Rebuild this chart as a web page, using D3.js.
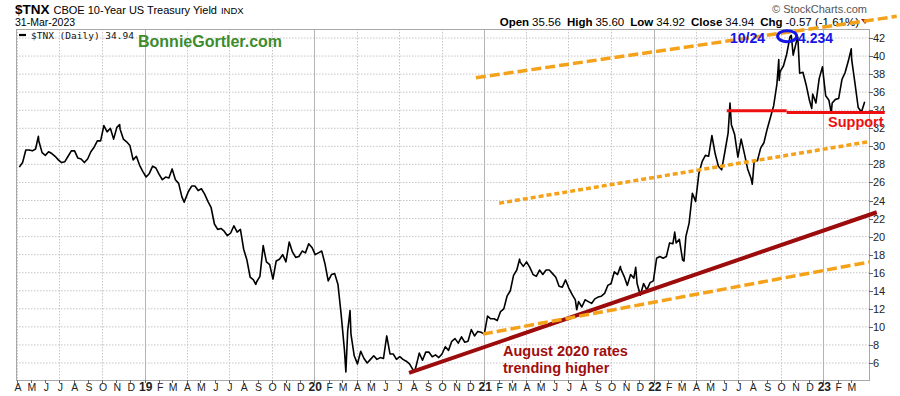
<!DOCTYPE html>
<html>
<head>
<meta charset="utf-8">
<script src="https://cdn.jsdelivr.net/npm/d3@7"></script>
<style>
body { margin: 0; background: #fff; }
svg { display: block; font-family: Arial, "Liberation Sans", sans-serif; }
</style>
</head>
<body>
<svg id="chart" width="900" height="396"></svg>
<script>
// weekly closes of $TNX (yield x10), one value per Friday starting 6-Apr-2018
var firstFriday = "2018-04-06";
var y2018 = [27.7,28.2,29.6,29.6, 29.5,29.7,30.6,29.3, 29.0,29.4,29.2,28.9,28.5, 28.2,28.3,28.9,29.5,
  29.5,28.7,28.6,28.2,28.6, 29.4,29.9,30.6,30.6, 32.3,31.6,32.0,30.8, 32.1,31.9,30.8,30.5,30.1, 28.5,28.9,27.9,27.2];
var y2019 = [26.6,27.0,27.8,27.6, 26.9,26.3,26.6,26.5, 27.5,26.3,25.9,24.4,24.1, 25.0,25.6,25.6,25.1,
  25.3,24.7,23.9,23.2,21.4, 20.8,20.9,20.6,20.1, 20.4,21.2,20.5,20.8, 18.6,17.4,15.5,15.2,15.0,
  15.6,19.0,17.2,16.9, 15.3,17.3,17.5,18.0, 17.2,19.4,18.3,17.7,17.8, 18.4,18.2,19.2,18.8];
var y2020 = [18.0,18.2,18.4,17.0,15.1, 15.8,15.9,14.7,11.3, 7.4,9.6,9.2,6.8, 5.9,7.3,6.5,6.0,
  6.4,6.8,6.4,6.6,6.5, 9.0,7.0,7.0,6.4, 6.7,6.4,6.2,5.9,5.3, 5.6,7.1,6.3,7.2, 7.2,6.7,6.9,6.6,
  7.0,7.8,7.4,8.4,8.7, 8.2,8.9,8.3,8.4, 9.7,9.0,9.5,9.4];
var y2021 = [9.2,11.2,10.9,10.9,10.7, 11.7,12.0,13.4,14.0, 15.7,16.3,17.2,16.7, 17.2,16.6,15.8,15.6,16.3,
  15.8,16.3,16.3,15.9, 15.5,14.5,14.4,15.2, 14.3,13.6,13.0,12.8,12.2, 13.0,12.8,12.6,13.1,
  13.3,13.4,13.7,14.6, 14.8,16.1,15.8,16.4,15.6, 14.6,15.8,15.4,14.8, 13.5,14.8,14.1,14.9,15.1];
var y2022 = [17.6,17.8,17.6,17.8, 19.3,19.2,19.3,19.7, 17.4,20.0,21.5,24.8, 23.9,27.0,28.3,29.0,28.9,
  31.2,29.2,27.8,27.4, 29.4,31.5,32.4,31.3, 28.8,30.8,29.2,27.5,26.5, 28.3,28.4,29.8,30.4,
  31.9,33.2,34.5,36.9,38.3, 38.9,40.2,42.1,40.1, 41.6,38.1,38.2,36.8, 35.1,35.8,34.8,37.5,38.8];
var y2023 = [35.6,35.1,34.8,35.2, 35.3,37.4,38.2,39.5, 39.6,37.0,34.3,33.8,34.94];

var extraDates = ["2018-05-17","2018-11-08","2019-03-27","2019-08-28","2020-03-09","2020-03-18",
  "2020-08-04","2021-03-18","2021-07-19","2021-10-21","2021-11-23","2022-02-15","2022-03-07",
  "2022-06-14","2022-08-01","2022-09-27","2022-09-28","2022-10-24","2022-11-07","2022-12-07",
  "2023-01-18","2023-03-02"];
var extraValues = [31.1,32.4,23.8,14.7,5.0,11.8, 5.1,17.5,11.9,16.7,16.6,20.5,17.3,
  34.8,25.8,39.6,37.3,42.3,42.1,34.2, 33.7,40.8];

// drawn-on annotations: [date, value] end points
var upperChannel = [["2020-12-14", 37.6], ["2023-06-08", 44.4]];
var midChannel   = [["2021-02-02", 23.7], ["2023-04-07", 30.5]];
var lowerChannel = [["2020-12-29", 9.2],  ["2023-04-11", 17.2]];
var augustTrend  = [["2020-07-23", 4.9],  ["2023-04-26", 22.7]];
var supportA     = [["2022-06-07", 33.95], ["2022-10-14", 33.95]];
var supportB     = [["2022-10-14", 33.74], ["2023-05-13", 33.74]];
var peakMark     = ["2022-10-15", 42.2];

var yTicks = d3.range(6, 43, 2);
var lastValue = "34.94";
var quote = [["Open", "35.56"], ["High", "35.60"], ["Low", "34.92"], ["Close", "34.94"], ["Chg", "-0.57 (-1.61%)"]];

var parseDate = d3.timeParse("%Y-%m-%d");

var weekly = y2018.concat(y2019, y2020, y2021, y2022, y2023);
var start = parseDate(firstFriday);
var series = weekly.map(function(v, i) { return {date: d3.timeDay.offset(start, 7 * i), value: v}; });
extraDates.forEach(function(d, i) { series.push({date: parseDate(d), value: extraValues[i]}); });
series.sort(function(a, b) { return a.date - b.date; });

var plot = {left: 16, right: 869, top: 29, bottom: 380};

var svg = d3.select("#chart");

var x = d3.scaleTime()
  .domain([new Date(2018, 3, 1), new Date(2023, 2, 31)])
  .range([17, 864.7]);
var y = d3.scaleLinear()
  .domain([6, 42])
  .range([363, 38]);

// grid
svg.append("g").selectAll("line")
  .data(yTicks)
  .enter().append("line")
  .attr("x1", plot.left).attr("x2", plot.right)
  .attr("y1", function(d) { return y(d); }).attr("y2", function(d) { return y(d); })
  .attr("stroke", "#c8c4c8").attr("stroke-dasharray", "1.5,1.5");

var quarters = d3.timeMonth.every(3).range(new Date(2018, 3, 1), new Date(2023, 3, 1));
svg.append("g").selectAll("line")
  .data(quarters)
  .enter().append("line")
  .attr("x1", function(d) { return Math.round(x(d)) + 0.5; })
  .attr("x2", function(d) { return Math.round(x(d)) + 0.5; })
  .attr("y1", plot.top).attr("y2", plot.bottom)
  .attr("stroke", function(d) { return d.getMonth() == 0 ? "#b4b4b4" : "#c8c4c8"; })
  .attr("stroke-dasharray", function(d) { return d.getMonth() == 0 ? null : "1.5,1.5"; });

// frame
svg.append("rect")
  .attr("x", plot.left + 0.5).attr("y", plot.top + 0.5)
  .attr("width", plot.right - plot.left).attr("height", plot.bottom - plot.top)
  .attr("fill", "none").attr("stroke", "#a8a8a8");

// x axis: month initials, two-digit year for January
var months = d3.timeMonth.range(new Date(2018, 3, 1), new Date(2023, 3, 1));
var xAxis = svg.append("g").attr("transform", "translate(0," + plot.bottom + ")");
xAxis.selectAll("line")
  .data(months)
  .enter().append("line")
  .attr("x1", function(d) { return Math.round(x(d)) + 0.5; })
  .attr("x2", function(d) { return Math.round(x(d)) + 0.5; })
  .attr("y1", 0).attr("y2", 3)
  .attr("stroke", "#666");
xAxis.selectAll("text")
  .data(months)
  .enter().append("text")
  .attr("x", function(d) { return x(d) + 1; })
  .attr("y", 11)
  .attr("text-anchor", "middle")
  .attr("font-size", function(d) { return d.getMonth() == 0 ? "12px" : "10.5px"; })
  .attr("font-weight", function(d) { return d.getMonth() == 0 ? "bold" : "normal"; })
  .attr("fill", "#222")
  .text(function(d) { return d.getMonth() == 0 ? d3.timeFormat("%y")(d) : d3.timeFormat("%b")(d).charAt(0); });

// y axis on the right
var yAxis = svg.append("g");
yAxis.selectAll("line")
  .data(yTicks)
  .enter().append("line")
  .attr("x1", plot.right).attr("x2", plot.right + 4)
  .attr("y1", function(d) { return Math.round(y(d)) + 0.5; })
  .attr("y2", function(d) { return Math.round(y(d)) + 0.5; })
  .attr("stroke", "#666");
yAxis.selectAll("text")
  .data(yTicks)
  .enter().append("text")
  .attr("x", plot.right + 4)
  .attr("y", function(d) { return y(d) + 4; })
  .attr("font-size", "11px")
  .attr("fill", "#222")
  .text(function(d) { return d; });

// price line
var line = d3.line()
  .x(function(d) { return x(d.date); })
  .y(function(d) { return y(d.value); });
svg.append("path")
  .datum(series)
  .attr("d", line)
  .attr("fill", "none")
  .attr("stroke", "#000")
  .attr("stroke-width", 1.6)
  .attr("stroke-linejoin", "round");

// header
var head = svg.append("text").attr("x", 15).attr("y", 14).attr("fill", "#000");
head.append("tspan").attr("font-weight", "bold").attr("font-size", "13.5px").text("$TNX");
head.append("tspan").attr("font-size", "11px").attr("dx", 4).text("CBOE 10-Year US Treasury Yield");
head.append("tspan").attr("font-size", "9.5px").attr("dx", 4).text("INDX");
svg.append("text").attr("x", 15).attr("y", 26).attr("font-size", "10.5px").attr("fill", "#000").text("31-Mar-2023");

svg.append("text").attr("x", 867).attr("y", 13).attr("text-anchor", "end")
  .attr("font-size", "11px").attr("fill", "#555").text("\u00a9 StockCharts.com");

var q = svg.append("text").attr("x", 859).attr("y", 26).attr("text-anchor", "end").attr("font-size", "11.5px").attr("fill", "#000");
quote.forEach(function(p, i) {
  q.append("tspan").attr("font-weight", "bold").attr("dx", i == 0 ? 0 : 6).text(p[0]);
  q.append("tspan").attr("dx", 3).text(p[1]);
});
svg.append("path").attr("d", "M861,19 L869,19 L865,24 Z").attr("fill", "#a01010");

// legend
svg.append("line").attr("x1", 19).attr("x2", 26).attr("y1", 35).attr("y2", 35)
  .attr("stroke", "#000").attr("stroke-width", 2.2);
svg.append("text").attr("x", 31).attr("y", 39)
  .attr("font-family", "'DejaVu Sans Mono', monospace").attr("font-size", "9.5px").attr("fill", "#111")
  .text("$TNX (Daily) " + lastValue);
svg.append("text").attr("x", 138).attr("y", 47)
  .attr("font-size", "16px").attr("font-weight", "bold").attr("fill", "#3c8c2c")
  .text("BonnieGortler.com");

// annotations
function seg(pts) {
  return d3.line()
    .x(function(d) { return x(parseDate(d[0])); })
    .y(function(d) { return y(d[1]); })(pts);
}
svg.append("path").attr("d", seg(augustTrend)).attr("stroke", "#9c0c0c").attr("stroke-width", 4).attr("fill", "none");
svg.append("path").attr("d", seg(lowerChannel)).attr("stroke", "#f5a21b").attr("stroke-width", 3.5)
  .attr("stroke-dasharray", "10,4").attr("fill", "none");
svg.append("path").attr("d", seg(midChannel)).attr("stroke", "#f5a21b").attr("stroke-width", 3.5)
  .attr("stroke-dasharray", "5,3").attr("fill", "none");
svg.append("path").attr("d", seg(upperChannel)).attr("stroke", "#f5a21b").attr("stroke-width", 3.5)
  .attr("stroke-dasharray", "10,4").attr("fill", "none");
svg.append("path").attr("d", seg(supportA)).attr("stroke", "#ee1010").attr("stroke-width", 3).attr("fill", "none");
svg.append("path").attr("d", seg(supportB)).attr("stroke", "#ee1010").attr("stroke-width", 3).attr("fill", "none");

svg.append("ellipse")
  .attr("cx", x(parseDate(peakMark[0]))).attr("cy", y(peakMark[1]))
  .attr("rx", 9.5).attr("ry", 5.5)
  .attr("fill", "none").attr("stroke", "#1414e6").attr("stroke-width", 3);
svg.append("text").attr("x", 730).attr("y", 43).attr("font-size", "14px").attr("font-weight", "bold")
  .attr("fill", "#1414e6").text("10/24");
svg.append("text").attr("x", 798).attr("y", 43).attr("font-size", "14px").attr("font-weight", "bold")
  .attr("fill", "#1414e6").text("4.234");

svg.append("text").attr("x", 828).attr("y", 127).attr("font-size", "14.5px").attr("font-weight", "bold")
  .attr("fill", "#ee1010").text("Support");

svg.append("text").attr("x", 503).attr("y", 356).attr("font-size", "14.5px").attr("font-weight", "bold")
  .attr("fill", "#a00e0e").text("August 2020 rates");
svg.append("text").attr("x", 503).attr("y", 373).attr("font-size", "14.5px").attr("font-weight", "bold")
  .attr("fill", "#a00e0e").text("trending higher");
</script>
</body>
</html>
